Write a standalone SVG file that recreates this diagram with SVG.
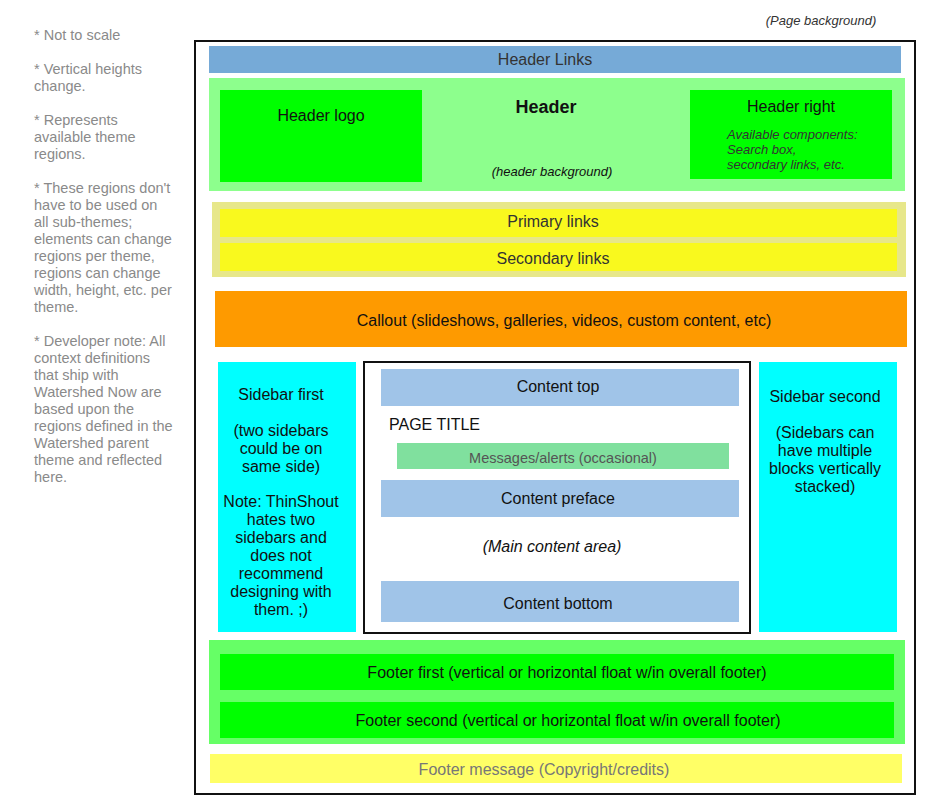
<svg xmlns="http://www.w3.org/2000/svg" width="944" height="807" viewBox="0 0 944 807">
<style>
text{font-family:"Liberation Sans",Arial,sans-serif;font-size:16px;fill:#111;text-anchor:middle}
.note{font-size:14.5px;fill:#8a8a8a;text-anchor:start}
.it{font-style:italic}
.dk{fill:#333}
</style>
<rect width="944" height="807" fill="#fff"/>
<g id="notes">
<text class="note" x="34" y="40">* Not to scale</text>
<text class="note" x="34" y="74">* Vertical heights</text>
<text class="note" x="34" y="91">change.</text>
<text class="note" x="34" y="125">* Represents</text>
<text class="note" x="34" y="142">available theme</text>
<text class="note" x="34" y="159">regions.</text>
<text class="note" x="34" y="193">* These regions don't</text>
<text class="note" x="34" y="210">have to be used on</text>
<text class="note" x="34" y="227">all sub-themes;</text>
<text class="note" x="34" y="244">elements can change</text>
<text class="note" x="34" y="261">regions per theme,</text>
<text class="note" x="34" y="278">regions can change</text>
<text class="note" x="34" y="295">width, height, etc. per</text>
<text class="note" x="34" y="312">theme.</text>
<text class="note" x="34" y="346">* Developer note: All</text>
<text class="note" x="34" y="363">context definitions</text>
<text class="note" x="34" y="380">that ship with</text>
<text class="note" x="34" y="397">Watershed Now are</text>
<text class="note" x="34" y="414">based upon the</text>
<text class="note" x="34" y="431">regions defined in the</text>
<text class="note" x="34" y="448">Watershed parent</text>
<text class="note" x="34" y="465">theme and reflected</text>
<text class="note" x="34" y="482">here.</text>
</g>
<g id="page">
<text class="it dk" x="821" y="25" style="font-size:13px">(Page background)</text>
<rect x="195" y="41" width="720" height="753" fill="#fff" stroke="#111" stroke-width="2"/>
</g>
<g id="header-links">
<rect x="209" y="46" width="692" height="27" fill="#76aad7"/>
<text class="dk" x="545" y="65">Header Links</text>
</g>
<g id="header">
<rect x="209" y="78" width="696" height="113" fill="#8dff8d"/>
<text x="546" y="113" style="font-weight:bold;font-size:18px">Header</text>
<text class="it" x="552" y="176" style="font-size:13px">(header background)</text>
</g>
<g id="header-logo">
<rect x="220" y="90" width="202" height="92" fill="#00ff00"/>
<text x="321" y="121">Header logo</text>
</g>
<g id="header-right">
<rect x="690" y="90" width="202" height="89" fill="#00ff00"/>
<text x="791" y="112">Header right</text>
<text class="it dk" x="727" y="139" style="text-anchor:start;font-size:13px">Available components:</text>
<text class="it dk" x="727" y="154" style="text-anchor:start;font-size:13px">Search box,</text>
<text class="it dk" x="727" y="169" style="text-anchor:start;font-size:13px">secondary links, etc.</text>
</g>
<g id="navigation">
<rect x="212" y="202" width="694" height="75" fill="#e7e78a"/>
</g>
<g id="primary-links">
<rect x="220" y="209" width="677" height="28" fill="#f9f91e"/>
<text class="dk" x="553" y="227">Primary links</text>
</g>
<g id="secondary-links">
<rect x="220" y="243" width="677" height="28" fill="#f9f91e"/>
<text class="dk" x="553" y="264">Secondary links</text>
</g>
<g id="callout">
<rect x="215" y="291" width="692" height="56" fill="#fe9a00"/>
<text x="564" y="326">Callout (slideshows, galleries, videos, custom content, etc)</text>
</g>
<g id="sidebar-first">
<rect x="218" y="362" width="138" height="270" fill="#00ffff"/>
<text x="281" y="400">Sidebar first</text>
<text x="281" y="436">(two sidebars</text>
<text x="281" y="454">could be on</text>
<text x="281" y="472">same side)</text>
<text x="281" y="507">Note: ThinShout</text>
<text x="281" y="525">hates two</text>
<text x="281" y="543">sidebars and</text>
<text x="281" y="561">does not</text>
<text x="281" y="579">recommend</text>
<text x="281" y="597">designing with</text>
<text x="281" y="615">them. ;)</text>
</g>
<g id="content">
<rect x="364" y="362" width="386" height="271" fill="#fff" stroke="#111" stroke-width="2"/>
<text x="389" y="430" style="text-anchor:start">PAGE TITLE</text>
<text class="it" x="552" y="552">(Main content area)</text>
</g>
<g id="content-top">
<rect x="381" y="369" width="358" height="37" fill="#a0c4e8"/>
<text x="558" y="392">Content top</text>
</g>
<g id="messages">
<rect x="397" y="443" width="332" height="26" fill="#80e09e"/>
<text x="563" y="463" style="font-size:14.5px;fill:#555">Messages/alerts (occasional)</text>
</g>
<g id="content-preface">
<rect x="381" y="480" width="358" height="37" fill="#a0c4e8"/>
<text x="558" y="504">Content preface</text>
</g>
<g id="content-bottom">
<rect x="381" y="581" width="358" height="41" fill="#a0c4e8"/>
<text x="558" y="609">Content bottom</text>
</g>
<g id="sidebar-second">
<rect x="759" y="362" width="138" height="270" fill="#00ffff"/>
<text x="825" y="402">Sidebar second</text>
<text x="825" y="438">(Sidebars can</text>
<text x="825" y="456">have multiple</text>
<text x="825" y="474">blocks vertically</text>
<text x="825" y="492">stacked)</text>
</g>
<g id="footer">
<rect x="209" y="640" width="696" height="104" fill="#66ff66"/>
</g>
<g id="footer-first">
<rect x="220" y="654" width="674" height="36" fill="#00ff00"/>
<text x="567" y="678">Footer first (vertical or horizontal float w/in overall footer)</text>
</g>
<g id="footer-second">
<rect x="220" y="702" width="674" height="36" fill="#00ff00"/>
<text x="568" y="726">Footer second (vertical or horizontal float w/in overall footer)</text>
</g>
<g id="footer-message">
<rect x="210" y="754" width="692" height="29" fill="#ffff66"/>
<text x="544" y="775" style="fill:#777">Footer message (Copyright/credits)</text>
</g>
<g id="connectors"/>
</svg>
